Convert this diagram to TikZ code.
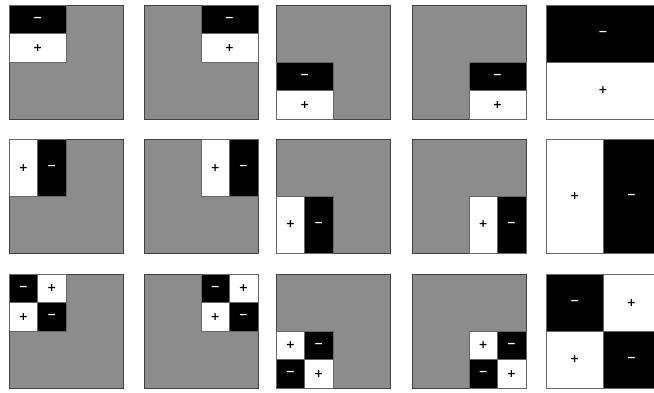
\documentclass[tikz,border=0pt]{standalone}
\usepackage{fontspec}
\setmainfont{DejaVu Sans}
\tikzset{
  panel/.style={draw=black!75, line width=0.8pt, fill=black!45, inner sep=0pt, anchor=north west},
  cellbase/.style={draw=black!60, line width=0.5pt, inner sep=0pt, anchor=north west,
    font=\fontsize{11}{11}\selectfont\bfseries},
  poscell/.style={cellbase, fill=white, text=black},
  negcell/.style={cellbase, fill=black, text=white},
}
\begin{document}
\begin{tikzpicture}[x=1pt,y=-1pt]
\clip (0,0) rectangle (654,392);
\def\S{113.5}
\foreach \c/\x/\fx/\fy/\f/\fl in {1/9/0/0/0.5/0, 2/144/0.5/0/0.5/0, 3/276/0/0.5/0.5/1, 4/412/0.5/0.5/0.5/1, 5/546/0/0/1/0}{
  \pgfmathsetmacro\w{\f*\S}
  \pgfmathsetmacro\hw{\w/2}
  \pgfmathsetmacro\ox{\x+\fx*\S}
  % panels
  \node[panel, minimum width=\S pt, minimum height=\S pt] (p1\c) at (\x,5) {};
  \node[panel, minimum width=\S pt, minimum height=\S pt] (p2\c) at (\x,139) {};
  \node[panel, minimum width=\S pt, minimum height=\S pt] (p3\c) at (\x,274) {};
  % row 1: edge feature, horizontal split
  \pgfmathsetmacro\oya{5+\fy*\S}
  \node[negcell, minimum width=\w pt, minimum height=\hw pt] (a1\c) at (\ox,\oya) {−};
  \node[poscell, minimum width=\w pt, minimum height=\hw pt] (b1\c) at (\ox,\oya+\hw) {+};
  % row 2: edge feature, vertical split
  \pgfmathsetmacro\oyb{139+\fy*\S}
  \node[poscell, minimum width=\hw pt, minimum height=\w pt] (a2\c) at (\ox,\oyb) {+};
  \node[negcell, minimum width=\hw pt, minimum height=\w pt] (b2\c) at (\ox+\hw,\oyb) {−};
  % row 3: checkerboard
  \pgfmathsetmacro\oyc{274+\fy*\S}
  \ifnum\fl=1
    \node[poscell, minimum width=\hw pt, minimum height=\hw pt] (a3\c) at (\ox,\oyc) {+};
    \node[negcell, minimum width=\hw pt, minimum height=\hw pt] (b3\c) at (\ox+\hw,\oyc) {−};
    \node[negcell, minimum width=\hw pt, minimum height=\hw pt] (c3\c) at (\ox,\oyc+\hw) {−};
    \node[poscell, minimum width=\hw pt, minimum height=\hw pt] (d3\c) at (\ox+\hw,\oyc+\hw) {+};
  \else
    \node[negcell, minimum width=\hw pt, minimum height=\hw pt] (a3\c) at (\ox,\oyc) {−};
    \node[poscell, minimum width=\hw pt, minimum height=\hw pt] (b3\c) at (\ox+\hw,\oyc) {+};
    \node[poscell, minimum width=\hw pt, minimum height=\hw pt] (c3\c) at (\ox,\oyc+\hw) {+};
    \node[negcell, minimum width=\hw pt, minimum height=\hw pt] (d3\c) at (\ox+\hw,\oyc+\hw) {−};
  \fi
}
\end{tikzpicture}
\end{document}
